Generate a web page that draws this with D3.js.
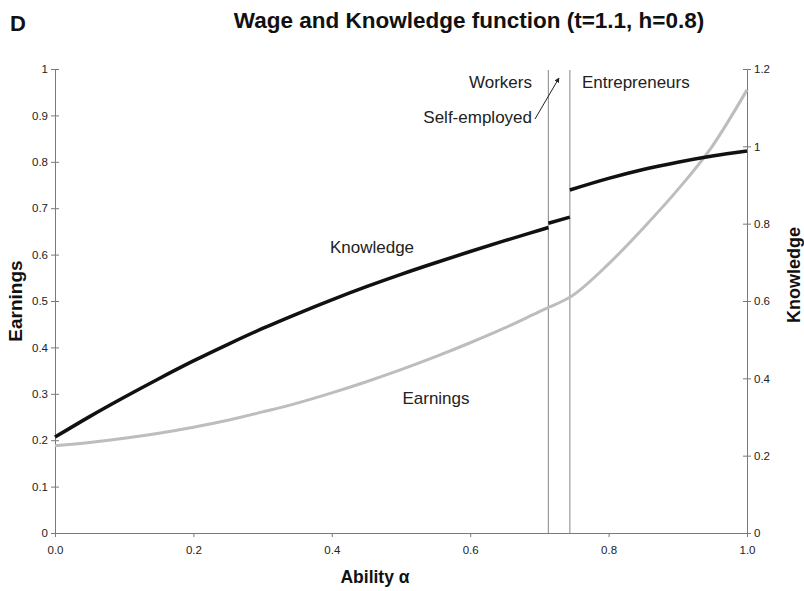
<!DOCTYPE html>
<html>
<head>
<meta charset="utf-8">
<script src="https://cdn.jsdelivr.net/npm/d3@7"></script>
<style>
  body { margin: 0; background: #fff; }
  svg { font-family: "Liberation Sans", Arial, sans-serif; }
</style>
</head>
<body>
<svg id="chart"></svg>
<script>
// ability grid and values
const alphaWorkers = [0, 0.05, 0.1, 0.15, 0.2, 0.25, 0.3, 0.35, 0.4, 0.45, 0.5, 0.55, 0.6, 0.65, 0.7, 0.713];
const knowWorkers  = [0.248, 0.301, 0.351, 0.399, 0.445, 0.488, 0.529, 0.567, 0.603, 0.637, 0.669, 0.699, 0.728, 0.756, 0.783, 0.790];

const alphaSelf = [0.713, 0.744];
const knowSelf  = [0.801, 0.817];

const alphaEntre = [0.744, 0.8, 0.85, 0.9, 0.95, 1.0];
const knowEntre  = [0.887, 0.917, 0.940, 0.959, 0.975, 0.988];

const alphaEarn = [0, 0.05, 0.1, 0.15, 0.2, 0.25, 0.3, 0.35, 0.4, 0.45, 0.5, 0.55, 0.6, 0.65, 0.7, 0.713, 0.744, 0.8, 0.85, 0.9, 0.95, 1.0];
const earnings  = [0.188, 0.195, 0.204, 0.215, 0.228, 0.243, 0.261, 0.280, 0.302, 0.326, 0.352, 0.380, 0.410, 0.442, 0.477, 0.486, 0.508, 0.580, 0.657, 0.740, 0.834, 0.955];

const thresholds = [0.713, 0.744];

const xTicks = [0, 0.2, 0.4, 0.6, 0.8, 1.0];
const leftTicks = [0, 0.1, 0.2, 0.3, 0.4, 0.5, 0.6, 0.7, 0.8, 0.9, 1];
const rightTicks = [0, 0.2, 0.4, 0.6, 0.8, 1, 1.2];

const width = 804, height = 591;
const margin = { top: 69, right: 57, bottom: 58, left: 55 };

const svg = d3.select('#chart').attr('width', width).attr('height', height);

const x = d3.scaleLinear().domain([0, 1]).range([margin.left, width - margin.right]);
const yL = d3.scaleLinear().domain([0, 1]).range([height - margin.bottom, margin.top]);
const yR = d3.scaleLinear().domain([0, 1.2]).range([height - margin.bottom, margin.top]);

const axisColor = '#7a7a7a';
const textColor = '#222';

// axes
const gx = svg.append('g')
  .attr('transform', `translate(0,${height - margin.bottom})`)
  .call(d3.axisBottom(x).tickValues(xTicks).tickFormat(d3.format('.1f')).tickSize(4).tickSizeOuter(0));

const gl = svg.append('g')
  .attr('transform', `translate(${margin.left},0)`)
  .call(d3.axisLeft(yL).tickValues(leftTicks).tickFormat(d => d3.format('~g')(d)).tickSize(4).tickSizeOuter(0));

const gr = svg.append('g')
  .attr('transform', `translate(${width - margin.right},0)`)
  .call(d3.axisRight(yR).tickValues(rightTicks).tickFormat(d => d3.format('~g')(d)).tickSize(4).tickSizeOuter(0));

[gx, gl, gr].forEach(g => {
  g.select('.domain').attr('stroke', axisColor);
  g.selectAll('.tick line').attr('stroke', axisColor);
  g.selectAll('.tick text').attr('fill', textColor).style('font-size', '11.5px');
});
gl.selectAll('.tick line').attr('x2', 4).attr('x1', -4);
gr.selectAll('.tick line').attr('x1', -4).attr('x2', 4);
gx.selectAll('.tick text').attr('dy', '1.2em');

// threshold lines
svg.append('g')
  .selectAll('line')
  .data(thresholds)
  .join('line')
  .attr('x1', d => x(d)).attr('x2', d => x(d))
  .attr('y1', yL(1) + 1).attr('y2', yL(0))
  .attr('stroke', '#9a9a9a')
  .attr('stroke-width', 1.2);

// curves
const line = d3.line().curve(d3.curveMonotoneX);

svg.append('path')
  .attr('d', line(alphaEarn.map((a, i) => [x(a), yL(earnings[i])])))
  .attr('fill', 'none')
  .attr('stroke', '#bdbdbd')
  .attr('stroke-width', 3);

[[alphaWorkers, knowWorkers], [alphaSelf, knowSelf], [alphaEntre, knowEntre]].forEach(([a, k]) => {
  svg.append('path')
    .attr('d', line(a.map((v, i) => [x(v), yR(k[i])])))
    .attr('fill', 'none')
    .attr('stroke', '#111')
    .attr('stroke-width', 3.5);
});

// annotations
const ann = svg.append('g').attr('fill', textColor).style('font-size', '17px');
ann.append('text').attr('x', 532).attr('y', 88).attr('text-anchor', 'end').text('Workers');
ann.append('text').attr('x', 532).attr('y', 123).attr('text-anchor', 'end').text('Self-employed');
ann.append('text').attr('x', 582).attr('y', 88).text('Entrepreneurs');
ann.append('text').attr('x', 372).attr('y', 253).attr('text-anchor', 'middle').text('Knowledge');
ann.append('text').attr('x', 436).attr('y', 404).attr('text-anchor', 'middle').text('Earnings');

svg.append('defs').append('marker')
  .attr('id', 'arrow')
  .attr('viewBox', '0 0 10 10')
  .attr('refX', 9).attr('refY', 5)
  .attr('markerWidth', 5).attr('markerHeight', 5)
  .attr('orient', 'auto')
  .append('path').attr('d', 'M0,0L10,5L0,10z').attr('fill', '#222');

svg.append('line')
  .attr('x1', 535).attr('y1', 119)
  .attr('x2', 559).attr('y2', 78)
  .attr('stroke', '#222').attr('stroke-width', 1)
  .attr('marker-end', 'url(#arrow)');

// titles
svg.append('text')
  .attr('x', 10).attr('y', 31)
  .attr('fill', '#111')
  .style('font-size', '22px').style('font-weight', 'bold')
  .text('D');

svg.append('text')
  .attr('x', 469).attr('y', 28)
  .attr('text-anchor', 'middle')
  .attr('fill', '#111')
  .style('font-size', '22.5px').style('font-weight', 'bold')
  .text('Wage and Knowledge function (t=1.1, h=0.8)');

svg.append('text')
  .attr('transform', `translate(22,${(yL(0) + yL(1)) / 2}) rotate(-90)`)
  .attr('text-anchor', 'middle')
  .attr('fill', '#111')
  .style('font-size', '19px').style('font-weight', 'bold')
  .text('Earnings');

svg.append('text')
  .attr('transform', 'translate(800,275) rotate(-90)')
  .attr('text-anchor', 'middle')
  .attr('fill', '#111')
  .style('font-size', '18px').style('font-weight', 'bold')
  .text('Knowledge');

svg.append('text')
  .attr('x', 375).attr('y', 583)
  .attr('text-anchor', 'middle')
  .attr('fill', '#111')
  .style('font-size', '17.5px').style('font-weight', 'bold')
  .text('Ability α');
</script>
</body>
</html>
